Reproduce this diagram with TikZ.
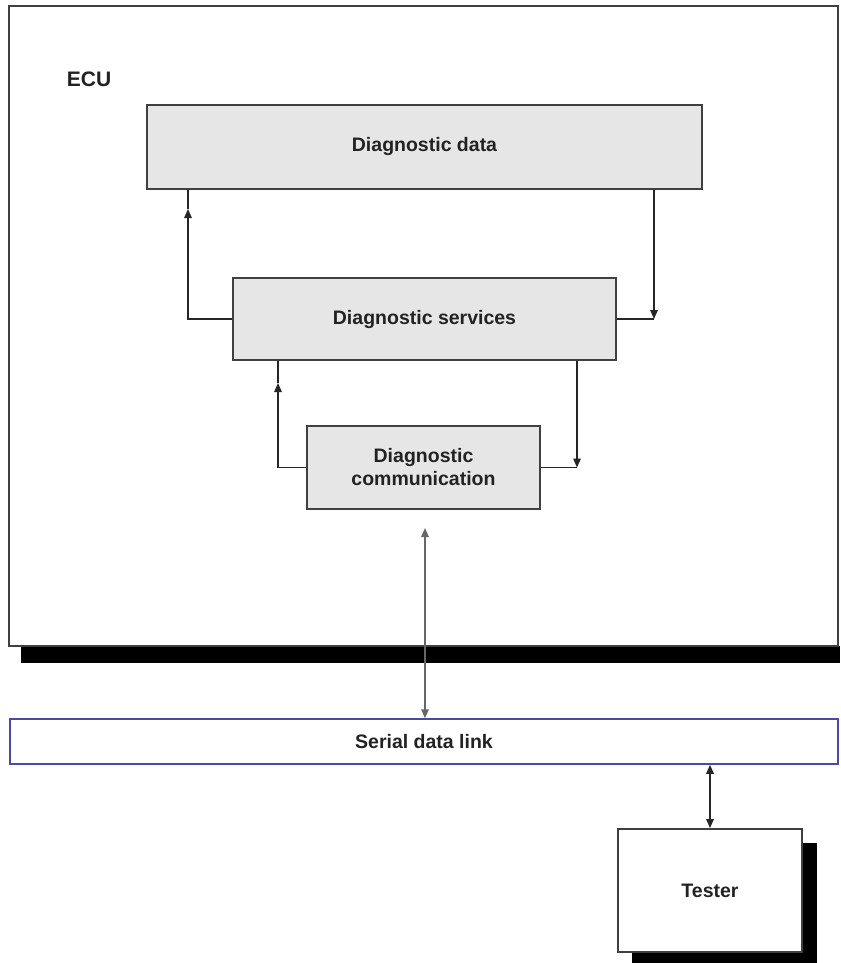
\documentclass[tikz,border=0pt]{standalone}
\usepackage{fontspec}
\setmainfont{Liberation Sans}
\usetikzlibrary{arrows.meta}

\definecolor{boxfill}{HTML}{E6E6E6}
\definecolor{boxline}{HTML}{404040}
\definecolor{linkline}{HTML}{4A4AA0}
\definecolor{txt}{HTML}{222222}

\begin{document}
\begin{tikzpicture}[x=1pt,y=-1pt,
  layerbox/.style={draw=boxline, line width=1.8pt, fill=boxfill, inner sep=0pt,
    font=\bfseries\fontsize{19.5}{23}\selectfont, text=txt, align=center},
  plainbox/.style={draw=boxline, line width=1.8pt, fill=white, inner sep=0pt,
    font=\bfseries\fontsize{19.5}{23}\selectfont, text=txt, align=center},
  conn/.style={line width=1.5pt, draw=black!85},
  tip/.style={conn, -{Triangle[length=9pt,width=7.5pt]}},
  both/.style={conn, {Triangle[length=9pt,width=7.5pt]}-{Triangle[length=9pt,width=7.5pt]}}
]
\useasboundingbox (0,0) rectangle (840,963);
\fill[white] (0,0) rectangle (840,963);

% ECU enclosure with its drop shadow
\fill[black] (21,646) rectangle (840,663);
\node[draw=boxline, line width=1.8pt, fill=white, minimum width=829pt, minimum height=640pt,
  inner sep=0pt] (ecu) at (423.5,326) {};
\node[font=\bfseries\fontsize{21}{25}\selectfont, text=txt] (ecuname) at (89,79) {ECU};

% diagnostic layers inside the ECU
\node[layerbox, minimum width=555pt, minimum height=84pt] (data) at (424.5,147) {Diagnostic data};
\node[layerbox, minimum width=383pt, minimum height=82pt] (services) at (424.5,319) {Diagnostic services};
\node[layerbox, minimum width=233pt, minimum height=83pt] (comm) at (423.5,467.5) {Diagnostic\\communication};

% serial bus
\node[draw=linkline, line width=1.5pt, fill=white, minimum width=828pt, minimum height=45pt,
  inner sep=0pt, font=\bfseries\fontsize{19.5}{23}\selectfont, text=txt] (link) at (424,741.5) {Serial data link};

% tester with its drop shadow
\fill[black] (632,843) rectangle (817,963);
\node[plainbox, minimum width=184pt, minimum height=123pt] (tester) at (710,890.5) {Tester};

% routing points
\coordinate (upA) at (188,209);
\coordinate (cornerA) at (188,319);
\coordinate (downA) at (654,319);
\coordinate (colA) at (654,0);
\coordinate (upB) at (278,383);
\coordinate (cornerB) at (278,467.5);
\coordinate (downB) at (577,467.5);
\coordinate (colB) at (577,0);
\coordinate (linkTop) at (425,528);

% services <-> data
\draw[tip] (services.west) -- (cornerA) -- (upA);
\draw[conn] (upA) -- (data.south -| upA);
\draw[tip] (data.south -| colA) -- (downA);
\draw[conn] (services.east) -- (downA);

% communication <-> services
\draw[tip] (comm.west) -- (cornerB) -- (upB);
\draw[conn] (upB) -- (services.south -| upB);
\draw[tip] (services.south -| colB) -- (downB);
\draw[conn] (comm.east) -- (downB);

% ECU <-> bus <-> tester
\draw[both, draw=black!60, fill=black] (linkTop) -- (link.north -| linkTop);
\draw[both] (link.south -| tester.north) -- (tester.north);
\end{tikzpicture}
\end{document}
